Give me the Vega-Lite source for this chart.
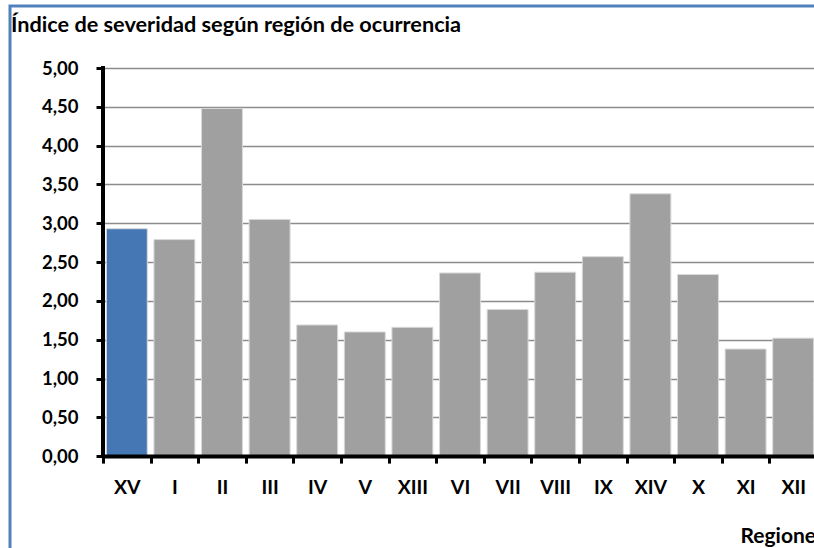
{
  "$schema": "https://vega.github.io/schema/vega-lite/v6.json",
  "autosize": "none",
  "padding": {"left": 10, "top": 6, "right": 0, "bottom": 0},
  "width": 810,
  "height": 551,
  "background": "white",
  "config": {
    "view": {"stroke": "#4f81bd", "strokeWidth": 3},
    "font": "Lato"
  },
  "title": {
    "text": "Índice de severidad según región de ocurrencia",
    "anchor": "start",
    "frame": "group",
    "offset": -48,
    "baseline": "alphabetic",
    "fontSize": 21.7,
    "font": "Lato",
    "fontWeight": "bold",
    "color": "black",
    "dx": 1
  },
  "data": {
    "values": [
      {"region": "XV", "indice": 2.93},
      {"region": "I", "indice": 2.79},
      {"region": "II", "indice": 4.48},
      {"region": "III", "indice": 3.05},
      {"region": "IV", "indice": 1.69},
      {"region": "V", "indice": 1.60},
      {"region": "XIII", "indice": 1.66},
      {"region": "VI", "indice": 2.36},
      {"region": "VII", "indice": 1.89},
      {"region": "VIII", "indice": 2.37},
      {"region": "IX", "indice": 2.57},
      {"region": "XIV", "indice": 3.38},
      {"region": "X", "indice": 2.34},
      {"region": "XI", "indice": 1.38},
      {"region": "XII", "indice": 1.52}
    ]
  },
  "layer": [
    {
      "mark": {"type": "bar", "width": {"band": 0.86}, "stroke": "#d9d9d9", "strokeWidth": 1},
      "encoding": {
        "x": {
          "field": "region",
          "type": "nominal",
          "sort": null,
          "scale": {"range": [93, 807], "paddingInner": 0, "paddingOuter": 0},
          "axis": {
            "orient": "bottom",
            "offset": -100.9,
            "zindex": 1,
            "domainColor": "black",
            "domainWidth": 4,
            "tickColor": "black",
            "tickWidth": 3,
            "tickSize": 7,
            "tickBand": "extent",
            "labelAngle": 0,
            "labelFont": "Lato",
            "labelFontSize": 19.5,
            "labelFontWeight": "bold",
            "labelColor": "black",
            "labelBaseline": "alphabetic",
            "labelPadding": 30,
            "title": "Regiones",
            "titleFont": "Lato",
            "titleFontSize": 21,
            "titleFontWeight": "bold",
            "titleColor": "black",
            "titleAlign": "left",
            "titleAnchor": "start",
            "titleBaseline": "alphabetic",
            "titleX": 730,
            "titleY": 86
          }
        },
        "y": {
          "field": "indice",
          "type": "quantitative",
          "scale": {"domain": [-1.3, 5.8], "nice": false, "zero": false},
          "axis": {
            "values": [0, 0.5, 1, 1.5, 2, 2.5, 3, 3.5, 4, 4.5, 5],
            "offset": -93,
            "domain": false,
            "tickSize": 7,
            "tickWidth": 3,
            "tickColor": "black",
            "labelExpr": "replace(format(datum.value, '.2f'), '.', ',')",
            "labelFont": "Lato",
            "labelFontSize": 18.5,
            "labelFontWeight": "bold",
            "labelColor": "black",
            "labelPadding": 18,
            "title": null,
            "grid": true,
            "gridColor": "#8c8c8c",
            "gridWidth": 1.5
          }
        },
        "color": {
          "condition": {"test": "datum.region === 'XV'", "value": "#4677b5"},
          "value": "#a0a0a0"
        }
      }
    },
    {
      "data": {"values": [{}]},
      "mark": {"type": "rule", "color": "black", "strokeWidth": 4, "strokeCap": "square"},
      "encoding": {
        "x": {"datum": "XV", "type": "nominal", "bandPosition": 0},
        "y": {"datum": 0, "type": "quantitative"},
        "y2": {"datum": 5}
      }
    }
  ]
}
